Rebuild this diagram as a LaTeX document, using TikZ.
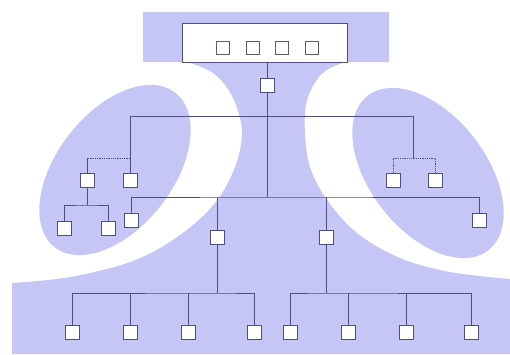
\documentclass[tikz,border=0pt]{standalone}
\definecolor{lav}{RGB}{198,198,246}
\definecolor{ln}{RGB}{78,78,128}
\begin{document}
\begin{tikzpicture}[x=1pt,y=-1pt,
  sq/.style={draw=ln, fill=white, minimum size=14pt, inner sep=0pt, line width=0.8pt},
  isq/.style={draw=ln!80!gray, fill=white, minimum size=13pt, inner sep=0pt, line width=0.8pt},
  wire/.style={draw=ln, line width=0.8pt},
  dwire/.style={draw=ln, line width=0.8pt, densely dotted}]
\useasboundingbox (0,0) rectangle (510,354);
\fill[white] (0,0) rectangle (510,354);
% background shapes
\fill[lav] (143,12) -- (389,12) -- (389,62) -- plot[smooth, tension=0.6] coordinates {(345,62) (325,71) (313,86) (306,105) (305,133) (310,167) (327,200) (357,233) (400,258) (450,272) (510,279)} -- (510,354) -- (12,354) -- plot[smooth, tension=0.6] coordinates {(12,283) (70,277) (133,261) (180,235) (215,203) (235,167) (242,133) (236,105) (225,85) (210,71) (187,62)} -- (143,62) -- cycle;
\fill[lav, rotate around={52:(115,170)}] (115,170) ellipse (98 and 58);
\fill[lav, rotate around={-52:(428,173)}] (428,173) ellipse (98 and 58);
% top box
\node[draw=ln, fill=white, line width=0.8pt, minimum width=165pt, minimum height=39pt, inner sep=0pt] (tb) at (264.5,42.5) {};
\node[isq] (t1) at (223,48) {};
\node[isq] (t2) at (253,48) {};
\node[isq] (t3) at (282,48) {};
\node[isq] (t4) at (312,48) {};
% tree nodes
\node[sq] (r) at (267,85) {};
\node[sq] (l1) at (87,180) {};
\node[sq] (l2) at (130,180) {};
\node[sq] (l3) at (64,228) {};
\node[sq] (l4) at (108,228) {};
\node[sq] (l5) at (131,220) {};
\node[sq] (r1) at (393,180) {};
\node[sq] (r2) at (435,180) {};
\node[sq] (r3) at (479,220) {};
\node[sq] (m1) at (217,237) {};
\node[sq] (m2) at (326,237) {};
\node[sq] (b1) at (72,332) {};
\node[sq] (b2) at (130,332) {};
\node[sq] (b3) at (188,332) {};
\node[sq] (b4) at (254,332) {};
\node[sq] (b5) at (290,332) {};
\node[sq] (b6) at (348,332) {};
\node[sq] (b7) at (406,332) {};
\node[sq] (b8) at (471,332) {};
% junction coordinates
\coordinate (top) at (267,62);
\coordinate (h1) at (267,116);
\coordinate (h2) at (267,197);
\coordinate (jl) at (130,116);
\coordinate (jr) at (413,116);
\coordinate (kl) at (130,158);
\coordinate (kr) at (413,158);
\coordinate (ll) at (87,205);
\coordinate (hl) at (217,293);
\coordinate (hr) at (326,293);
% connectors
\draw[wire] (top) -- (r.north);
\draw[wire] (r.south) -- (h2);
\draw[wire] (jl) -- (jr);
\draw[wire] (jl) -- (l2.north);
\draw[dwire] (kl) -- (kl -| l1);
\draw[wire] (kl -| l1) -- (l1.north);
\draw[wire] (l1.south) -- (ll);
\draw[wire] (l3.north) |- (ll) -| (l4.north);
\draw[wire] (jr) -- (kr);
\draw[dwire] (r1.north) |- (kr) -| (r2.north);
\draw[wire] (l5.north) |- (h2) -| (r3.north);
\draw[wire] (h2 -| m1) -- (m1.north);
\draw[wire] (h2 -| m2) -- (m2.north);
\draw[wire] (m1.south) -- (hl);
\draw[wire] (m2.south) -- (hr);
\draw[wire] (b1.north) |- (hl) -| (b4.north);
\draw[wire] (hl -| b2) -- (b2.north);
\draw[wire] (hl -| b3) -- (b3.north);
\draw[wire] (b5.north) |- (hr) -| (b8.north);
\draw[wire] (hr -| b6) -- (b6.north);
\draw[wire] (hr -| b7) -- (b7.north);
\end{tikzpicture}
\end{document}
